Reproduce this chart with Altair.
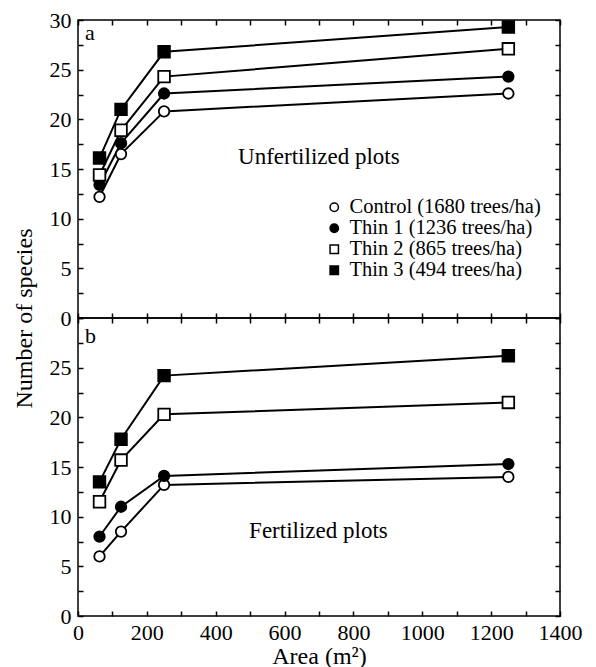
import altair as alt
import pandas as pd

FONT = "Liberation Serif"

areas = [62.5, 125, 250, 1250]
treatments = ["Control (1680 trees/ha)", "Thin 1 (1236 trees/ha)",
              "Thin 2 (865 trees/ha)", "Thin 3 (494 trees/ha)"]

# Panel a: unfertilized plots
unfert_control = [12.2, 16.5, 20.8, 22.6]
unfert_thin1 = [13.4, 17.6, 22.6, 24.3]
unfert_thin2 = [14.4, 18.9, 24.3, 27.1]
unfert_thin3 = [16.1, 21.0, 26.8, 29.3]

# Panel b: fertilized plots
fert_control = [6.0, 8.5, 13.2, 14.0]
fert_thin1 = [8.0, 11.0, 14.1, 15.3]
fert_thin2 = [11.5, 15.7, 20.3, 21.5]
fert_thin3 = [13.5, 17.8, 24.2, 26.2]

x_ticks = list(range(0, 1401, 100))
y_ticks = [i * 2.5 for i in range(13)]

fills = ["white", "black", "white", "black"]
strokes = ["black", "black", "black", "black"]
shapes = ["circle", "circle", "square", "square"]
sizes = [110, 110, 135, 135]

W, H = 482, 298
TK = 5


def make_df(series):
    rows = []
    for i, (t, vals) in enumerate(zip(treatments, series)):
        for a, v in zip(areas, vals):
            rows.append({"area": a, "species": v, "treatment": t, "msize": sizes[i]})
    return pd.DataFrame(rows)


df_a = make_df([unfert_control, unfert_thin1, unfert_thin2, unfert_thin3])
df_b = make_df([fert_control, fert_thin1, fert_thin2, fert_thin3])

xscale = alt.Scale(domain=[0, 1400], nice=False, zero=False)
yscale = alt.Scale(domain=[0, 30], nice=False, zero=False)


def panel(df, letter, letter_xy, note, note_xy, bottom_labels, y_expr, y_title, show_legend):
    x_main = alt.X("area:Q", scale=xscale, axis=alt.Axis(
        orient="bottom", values=x_ticks, offset=-TK, tickSize=TK, domain=False, grid=False,
        labels=bottom_labels, format="d", labelFlush=False,
        labelExpr="datum.value % 200 === 0 ? datum.label : ''",
        labelPadding=6, title="Area (m²)" if bottom_labels else None, titlePadding=1))
    y_axis_kw = dict(orient="left", values=y_ticks, offset=-TK, tickSize=TK, domain=False,
                     grid=False, format="d", labelExpr=y_expr, labelPadding=7, labelFlush=False)
    if y_title:
        y_axis_kw.update(title="Number of species", titleY=H, titlePadding=13)
    else:
        y_axis_kw.update(title=None)
    y_main = alt.Y("species:Q", scale=yscale, axis=alt.Axis(**y_axis_kw))

    if show_legend:
        leg = alt.Legend(
            orient="none", legendX=246, legendY=177, title=None, labelLimit=400,
            symbolStrokeWidth=1.5)
    else:
        leg = None

    lines = alt.Chart(df).mark_line(color="black", strokeWidth=2).encode(
        x=x_main, y=y_main, detail="treatment:N")
    points = alt.Chart(df).mark_point(filled=True, strokeWidth=1.8, opacity=1).encode(
        x=x_main, y=y_main,
        fill=alt.Fill("treatment:N", scale=alt.Scale(domain=treatments, range=fills), legend=leg),
        stroke=alt.Stroke("treatment:N", scale=alt.Scale(domain=treatments, range=strokes), legend=leg),
        shape=alt.Shape("treatment:N", scale=alt.Scale(domain=treatments, range=shapes), legend=leg),
        size=alt.Size("msize:Q", scale=None, legend=None),
    )
    notes = pd.DataFrame({"area": [letter_xy[0], note_xy[0]],
                          "species": [letter_xy[1], note_xy[1]],
                          "label": [letter, note],
                          "fs": [22, 23]})
    texts = alt.Chart(notes).mark_text(align="left", baseline="middle", font=FONT,
                                       color="black").encode(
        x=x_main, y=y_main, text="label:N",
        size=alt.Size("fs:Q", scale=None, legend=None))
    main = alt.layer(lines, points, texts)

    tick_layer = alt.Chart(df).mark_point(opacity=0).encode(
        x=alt.X("area:Q", scale=xscale, axis=alt.Axis(
            orient="top", values=x_ticks, offset=-TK, tickSize=TK, domain=False, grid=False,
            labels=False, title=None)),
        y=alt.Y("species:Q", scale=yscale, axis=alt.Axis(
            orient="right", values=y_ticks, offset=-TK, tickSize=TK, domain=False, grid=False,
            labels=False, title=None)),
    )
    return alt.layer(main, tick_layer).resolve_axis(x="independent", y="independent").properties(
        width=W, height=H)


pa = panel(df_a, "a", (20, 28.7), "Unfertilized plots", (465, 16.2), False,
           "datum.value % 5 === 0 ? datum.label : ''", True, True)
pb = panel(df_b, "b", (20, 28.2), "Fertilized plots", (497, 8.6), True,
           "datum.value % 5 === 0 && datum.value < 30 ? datum.label : ''", False, False)

chart = alt.vconcat(pa, pb, spacing=0, bounds="flush").resolve_scale(
    fill="independent", shape="independent", stroke="independent"
).resolve_legend(fill="independent", shape="independent", stroke="independent").properties(
    padding={"left": 3, "top": 0, "right": 5, "bottom": 0}
).configure_view(stroke="black", strokeWidth=1.5).configure_axis(
    labelFont=FONT, titleFont=FONT, labelFontSize=22, titleFontSize=24,
    labelColor="black", titleColor="black", titleFontWeight="normal",
    tickColor="black", tickWidth=1.5
).configure_legend(
    labelFont=FONT, labelFontSize=20.5, labelColor="black", symbolSize=70,
    symbolStrokeWidth=1.5, labelOffset=5,
    rowPadding=0, padding=0, labelLimit=400
)

chart.save("out.html", embed_options={"renderer": "svg", "actions": False})
